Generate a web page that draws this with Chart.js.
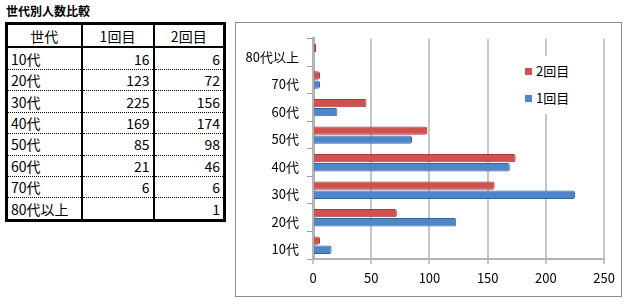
<!DOCTYPE html>
<html>
<head>
<meta charset="utf-8">
<script src="https://cdn.jsdelivr.net/npm/chart.js@4.4.1/dist/chart.umd.min.js"></script>
<style>
  html, body { margin:0; padding:0; background:#fff; width:628px; height:304px; overflow:hidden; }
  body { position:relative; font-family:"Noto Sans CJK JP", sans-serif; }
  #title { position:absolute; left:6px; top:3px; font-size:12px; font-weight:bold; color:#000; line-height:16px; }
  #tbl { position:absolute; left:5px; top:22px; width:218px; height:200px; border-collapse:collapse; border:3px solid #000; table-layout:fixed; font-size:14px; color:#000; }
  #tbl td, #tbl th { padding:0 3px; border-left:2px solid #000; border-right:2px solid #000; border-bottom:1px dotted #000; line-height:16px; white-space:nowrap; overflow:hidden; }
  #tbl th { font-weight:normal; text-align:center; border-bottom:2px solid #000; height:21px; }
  #tbl td { height:20px; }
  #tbl td.n { text-align:right; }
  #tbl tr:last-child td { border-bottom:none; }
  #box { position:absolute; left:235px; top:22px; width:387px; height:275px; border:1px solid #8c8c8c; box-sizing:border-box; }
  #c { position:absolute; left:0; top:0; }
  #legend { position:absolute; left:285px; top:33px; width:56px; height:58px; background:#fff; font-size:13px; color:#000; }
  .li { position:absolute; left:4px; height:16px; line-height:16px; white-space:nowrap; }
  .sw { display:inline-block; width:7px; height:7px; margin-right:4px; vertical-align:1px; }
</style>
</head>
<body>
<div id="title">世代別人数比較</div>
<table id="tbl"></table>
<div id="box">
  <canvas id="c" width="385" height="273"></canvas>
  <div id="legend"></div>
</div>
<script>
// ---- data ----
const tableTitle = "世代別人数比較";
const headerLabels = ["世代", "1回目", "2回目"];
const categories = ["10代", "20代", "30代", "40代", "50代", "60代", "70代", "80代以上"];
const series1 = [16, 123, 225, 169, 85, 21, 6, null];   // 1回目
const series2 = [6, 72, 156, 174, 98, 46, 6, 1];        // 2回目
const xTicks = [0, 50, 100, 150, 200, 250];

// ---- table ----
(function buildTable(){
  const t = document.getElementById('tbl');
  let html = '<colgroup><col style="width:75px"><col style="width:72px"><col style="width:71px"></colgroup>';
  html += '<tr>' + headerLabels.map(h => '<th>' + h + '</th>').join('') + '</tr>';
  categories.forEach((c, i) => {
    const a = series1[i] == null ? '' : series1[i];
    const b = series2[i] == null ? '' : series2[i];
    html += '<tr><td>' + c + '</td><td class="n">' + a + '</td><td class="n">' + b + '</td></tr>';
  });
  t.innerHTML = html;
})();

// ---- chart ----
const RED = '#D0524E', RED_B = '#A23C39';
const BLUE = '#4F86C9', BLUE_B = '#35639C';
const FONT = { family: '"Noto Sans CJK JP", sans-serif', size: 13 };

const datasets = [
  { label: headerLabels[2], data: series2, backgroundColor: RED, borderColor: RED_B, borderWidth: 1, borderRadius: 2, minBarLength: 3 },
  { label: headerLabels[1], data: series1, backgroundColor: BLUE, borderColor: BLUE_B, borderWidth: 1, borderRadius: 2, minBarLength: 3 }
];

const chart = new Chart(document.getElementById('c'), {
  type: 'bar',
  data: { labels: categories, datasets: datasets },
  options: {
    indexAxis: 'y',
    responsive: false,
    animation: false,
    devicePixelRatio: 1,
    barPercentage: 0.92,
    categoryPercentage: 0.66,
    layout: { padding: { top: 14, right: 16, left: 0, bottom: 0 } },
    plugins: { legend: { display: false }, tooltip: { enabled: false } },
    scales: {
      y: {
        reverse: true,
        afterFit: s => { s.width = 77; },
        grid: { drawOnChartArea: false, drawTicks: true, tickLength: 6, color: '#9a9a9a', lineWidth: 1 },
        border: { display: true, color: '#b4b4b4', width: 3 },
        ticks: { font: FONT, color: '#000', padding: 8, labelOffset: 4, autoSkip: false }
      },
      x: {
        min: xTicks[0], max: xTicks[xTicks.length - 1],
        afterFit: s => { s.height = 37; },
        afterBuildTicks: s => { s.ticks = xTicks.map(v => ({ value: v })); },
        grid: { color: '#c6c6c6', lineWidth: 2, drawTicks: true, tickLength: 5 },
        border: { display: true, color: '#b4b4b4', width: 2 },
        ticks: { font: FONT, color: '#000', padding: 6 }
      }
    }
  }
});

// ---- legend (HTML, from datasets) ----
(function buildLegend(){
  const lg = document.getElementById('legend');
  datasets.forEach((d, i) => {
    const el = document.createElement('div');
    el.className = 'li';
    el.style.top = (7 + i * 27) + 'px';
    el.innerHTML = '<span class="sw" style="background:' + d.backgroundColor + '"></span>' + d.label;
    lg.appendChild(el);
  });
})();
</script>
</body>
</html>
